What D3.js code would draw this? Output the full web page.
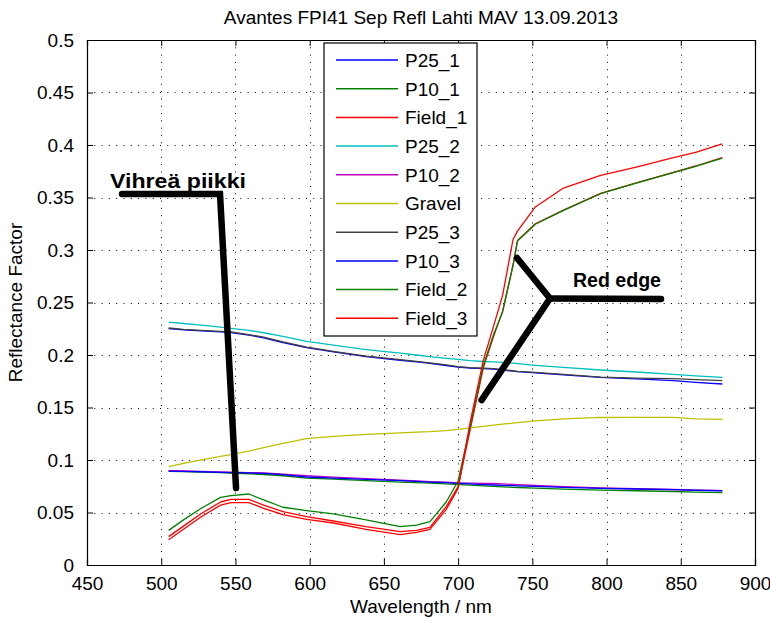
<!DOCTYPE html>
<html>
<head>
<meta charset="utf-8">
<script src="https://cdn.jsdelivr.net/npm/d3@7"></script>
<style>
  html, body { margin: 0; padding: 0; background: #fff; }
  svg { display: block; }
  .mat text { font-family: "Liberation Sans", Arial, sans-serif; fill: #000; }
</style>
</head>
<body>
<script>
// Spectral reflectance measured with the Avantes FPI41 spectrometer
const wavelengths = [505, 515, 527, 540, 547, 559, 569, 582, 598, 616, 638, 661, 672, 681, 692, 700, 708, 717, 724, 730, 737, 740, 752, 771, 796, 820, 845, 860, 878];

const seriesNames = ["P25_1", "P10_1", "Field_1", "P25_2", "P10_2", "Gravel", "P25_3", "P10_3", "Field_2", "Field_3"];
const seriesColors = ["#0000ff", "#008000", "#ff0000", "#00bfbf", "#bf00bf", "#bfbf00", "#404040", "#0000ff", "#008000", "#ff0000"];

const p25_1 = [0.2252, 0.2240, 0.2230, 0.2220, 0.2214, 0.2190, 0.2163, 0.2118, 0.2070, 0.2030, 0.1985, 0.1950, 0.1935, 0.1920, 0.1900, 0.1885, 0.1876, 0.1870, 0.1866, 0.1856, 0.1846, 0.1841, 0.1830, 0.1810, 0.1786, 0.1772, 0.1755, 0.1740, 0.1724];
const p10_1 = [0.0893, 0.0890, 0.0885, 0.0879, 0.0875, 0.0869, 0.0862, 0.0850, 0.0828, 0.0818, 0.0803, 0.0790, 0.0784, 0.0779, 0.0773, 0.0766, 0.0760, 0.0754, 0.0748, 0.0744, 0.0740, 0.0738, 0.0732, 0.0722, 0.0714, 0.0707, 0.0700, 0.0695, 0.0690];
const field_1 = [0.0270, 0.0370, 0.0490, 0.0600, 0.0625, 0.0625, 0.0570, 0.0508, 0.0460, 0.0419, 0.0365, 0.0317, 0.0330, 0.0359, 0.0556, 0.0746, 0.1280, 0.1880, 0.2180, 0.2420, 0.2860, 0.3090, 0.3250, 0.3380, 0.3540, 0.3640, 0.3740, 0.3800, 0.3880];
const p25_2 = [0.2314, 0.2300, 0.2285, 0.2265, 0.2254, 0.2235, 0.2212, 0.2178, 0.2130, 0.2095, 0.2052, 0.2018, 0.2000, 0.1985, 0.1968, 0.1958, 0.1946, 0.1938, 0.1935, 0.1930, 0.1922, 0.1918, 0.1902, 0.1882, 0.1857, 0.1838, 0.1815, 0.1802, 0.1787];
const p10_2 = [0.0898, 0.0896, 0.0892, 0.0887, 0.0884, 0.0880, 0.0876, 0.0866, 0.0850, 0.0836, 0.0822, 0.0807, 0.0800, 0.0794, 0.0788, 0.0783, 0.0780, 0.0778, 0.0776, 0.0772, 0.0767, 0.0765, 0.0757, 0.0746, 0.0734, 0.0726, 0.0719, 0.0714, 0.0709];
const gravel = [0.0937, 0.0968, 0.1002, 0.1035, 0.1052, 0.1085, 0.1118, 0.1158, 0.1203, 0.1225, 0.1245, 0.1258, 0.1265, 0.1270, 0.1280, 0.1292, 0.1305, 0.1320, 0.1332, 0.1342, 0.1352, 0.1356, 0.1372, 0.1392, 0.1405, 0.1406, 0.1406, 0.1392, 0.1387];
const p25_3 = [0.2257, 0.2245, 0.2235, 0.2225, 0.2220, 0.2195, 0.2170, 0.2125, 0.2075, 0.2035, 0.1990, 0.1955, 0.1940, 0.1925, 0.1905, 0.1890, 0.1880, 0.1875, 0.1870, 0.1860, 0.1850, 0.1845, 0.1835, 0.1815, 0.1790, 0.1780, 0.1775, 0.1765, 0.1756];
const p10_3 = [0.0894, 0.0892, 0.0888, 0.0883, 0.0880, 0.0877, 0.0872, 0.0860, 0.0838, 0.0828, 0.0815, 0.0803, 0.0796, 0.0790, 0.0784, 0.0778, 0.0772, 0.0766, 0.0762, 0.0759, 0.0755, 0.0754, 0.0748, 0.0740, 0.0730, 0.0724, 0.0717, 0.0712, 0.0707];
const field_2 = [0.0330, 0.0430, 0.0540, 0.0644, 0.0660, 0.0676, 0.0620, 0.0550, 0.0518, 0.0486, 0.0430, 0.0365, 0.0380, 0.0413, 0.0600, 0.0800, 0.1310, 0.1900, 0.2200, 0.2410, 0.2850, 0.3085, 0.3245, 0.3377, 0.3536, 0.3637, 0.3736, 0.3797, 0.3876];
const field_3 = [0.0240, 0.0340, 0.0460, 0.0570, 0.0595, 0.0595, 0.0540, 0.0480, 0.0435, 0.0400, 0.0340, 0.0290, 0.0310, 0.0340, 0.0530, 0.0730, 0.1350, 0.1950, 0.2280, 0.2570, 0.3100, 0.3180, 0.3410, 0.3590, 0.3710, 0.3790, 0.3880, 0.3930, 0.4010];

const xTicks = [450, 500, 550, 600, 650, 700, 750, 800, 850, 900];
const yTicks = [0, 0.05, 0.1, 0.15, 0.2, 0.25, 0.3, 0.35, 0.4, 0.45, 0.5];
const yTickLabels = ["0", "0.05", "0.1", "0.15", "0.2", "0.25", "0.3", "0.35", "0.4", "0.45", "0.5"];

// Hand-drawn callouts, given in data units (wavelength, reflectance)
const greenPeakPath = [[473.6, 0.3533], [539.6, 0.3533], [550.4, 0.0733]];
const greenPeakLabel = { text: "Vihreä piikki", wl: 465.5, r: 0.3595, width: 136 };
const redEdgeArms = [
  [[739.7, 0.2924], [761.9, 0.2538]],
  [[715.8, 0.1570], [761.9, 0.2538]],
  [[761.9, 0.2538], [836.7, 0.2533]]
];
const redEdgeLabel = { text: "Red edge", wl: 777.4, r: 0.2648, width: 88 };

const seriesValues = [p25_1, p10_1, field_1, p25_2, p10_2, gravel, p25_3, p10_3, field_2, field_3];
const series = seriesNames.map((name, i) => ({
  name, color: seriesColors[i],
  points: wavelengths.map((w, j) => [w, seriesValues[i][j]])
}));

const W = 770, H = 621;
const m = { left: 87, right: 15, top: 40, bottom: 56 };
const iw = W - m.left - m.right, ih = H - m.top - m.bottom;

const svg = d3.select("body").append("svg").attr("width", W).attr("height", H).attr("class", "mat");
svg.append("rect").attr("width", W).attr("height", H).attr("fill", "#fff");

const x = d3.scaleLinear().domain([450, 900]).range([0, iw]);
const y = d3.scaleLinear().domain([0, 0.5]).range([ih, 0]);

const g = svg.append("g").attr("transform", `translate(${m.left},${m.top})`);

// dotted grid
g.append("g").selectAll("line").data(xTicks.slice(1, -1)).join("line")
  .attr("x1", d => Math.round(x(d)) + 0.5).attr("x2", d => Math.round(x(d)) + 0.5)
  .attr("y1", 0).attr("y2", ih)
  .attr("stroke", "#000").attr("stroke-width", 1).attr("stroke-dasharray", "1,6.3");
g.append("g").selectAll("line").data(yTicks.slice(1, -1)).join("line")
  .attr("y1", d => Math.round(y(d)) + 0.5).attr("y2", d => Math.round(y(d)) + 0.5)
  .attr("x1", 0).attr("x2", iw)
  .attr("stroke", "#000").attr("stroke-width", 1).attr("stroke-dasharray", "1,6.3");

// data lines
const line = d3.line().x(d => x(d[0])).y(d => y(d[1]));
g.append("g").selectAll("path").data(series).join("path")
  .attr("d", d => line(d.points))
  .attr("fill", "none").attr("stroke", d => d.color).attr("stroke-width", 1.3)
  .attr("stroke-linejoin", "round");

// axes with inward ticks on all four sides
const fs = 19;
const axB = g.append("g").attr("transform", `translate(0,${ih})`)
  .call(d3.axisBottom(x).tickValues(xTicks).tickSize(-6).tickPadding(12).tickFormat(d3.format("d")));
const axT = g.append("g")
  .call(d3.axisTop(x).tickValues(xTicks).tickSize(-6).tickFormat(""));
const axL = g.append("g")
  .call(d3.axisLeft(y).tickValues(yTicks).tickSize(-6).tickPadding(13).tickFormat((d, i) => yTickLabels[i]));
const axR = g.append("g").attr("transform", `translate(${iw},0)`)
  .call(d3.axisRight(y).tickValues(yTicks).tickSize(-6).tickFormat(""));
[axB, axT, axL, axR].forEach(a => {
  a.select(".domain").attr("stroke", "#000").attr("stroke-width", 1.2);
  a.selectAll(".tick line").attr("stroke", "#000");
  a.selectAll("text").attr("font-size", fs).attr("font-family", "Liberation Sans, Arial, sans-serif").attr("fill", "#000");
});

// legend
const lg = g.append("g").attr("transform", `translate(${324 - m.left},${43 - m.top})`);
lg.append("rect").attr("width", 153).attr("height", 293).attr("fill", "#fff").attr("stroke", "#000").attr("stroke-width", 1.2);
const rows = lg.selectAll("g").data(series).join("g")
  .attr("transform", (d, i) => `translate(0,${17 + i * 28.7})`);
rows.append("line").attr("x1", 12).attr("x2", 74).attr("stroke", d => d.color).attr("stroke-width", 1.5);
rows.append("text").attr("x", 81).attr("dy", "0.36em").attr("font-size", fs).text(d => d.name);

// callouts
const callout = d3.line().x(d => x(d[0])).y(d => y(d[1]));
const ann = g.append("g").attr("fill", "none").attr("stroke", "#000").attr("stroke-width", 6.5)
  .attr("stroke-linecap", "round").attr("stroke-linejoin", "miter");
ann.append("path").attr("d", callout(greenPeakPath));
redEdgeArms.forEach(a => ann.append("path").attr("d", callout(a)));

[greenPeakLabel, redEdgeLabel].forEach(lbl => {
  g.append("text").attr("x", x(lbl.wl)).attr("y", y(lbl.r))
    .attr("font-family", "Lato, 'Open Sans', sans-serif").attr("font-weight", "bold").attr("font-size", 20)
    .attr("textLength", lbl.width).attr("lengthAdjust", "spacingAndGlyphs")
    .attr("fill", "#141414").text(lbl.text);
});

// title and axis labels
svg.append("text").attr("x", m.left + iw / 2).attr("y", 24).attr("text-anchor", "middle")
  .attr("font-size", fs).text("Avantes FPI41 Sep Refl Lahti MAV 13.09.2013");
svg.append("text").attr("x", m.left + iw / 2).attr("y", 613).attr("text-anchor", "middle")
  .attr("font-size", fs).text("Wavelength / nm");
svg.append("text").attr("transform", `translate(22,${m.top + ih / 2}) rotate(-90)`).attr("text-anchor", "middle")
  .attr("font-size", fs).text("Reflectance Factor");
</script>
</body>
</html>
